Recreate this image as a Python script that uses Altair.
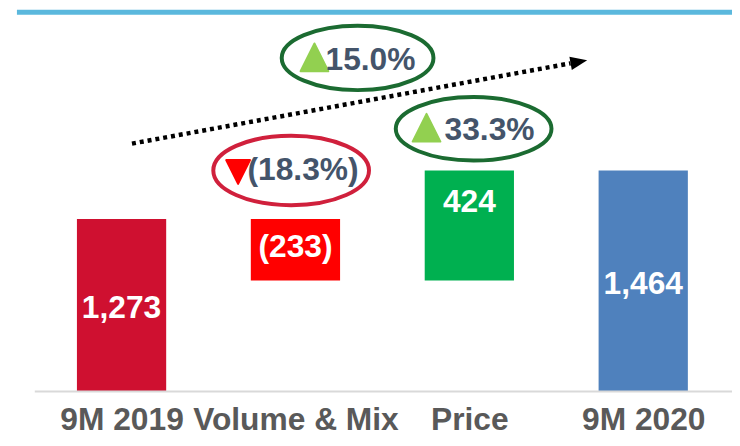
import json
import altair as alt
import pandas as pd

# ---- data ----
categories = ["9M 2019", "Volume & Mix", "Price", "9M 2020"]
bar_labels = ["1,273", "(233)", "424", "1,464"]
bar_base = [0, 820, 820, 0]          # drawn bar extents (chart units, 1st bar = 1,273)
bar_top = [1273, 1273, 1630, 1630]
bar_colors = ["#CF1030", "#FF0000", "#00B050", "#4F81BD"]
bar_label_y = [541, 993, 1328, 717]

pct_text = ["15.0%", "33.3%", "(18.3%)"]
pct_x = [1.4316, 2.116, 1.0437]
pct_y = [2370, 1858, 1562]

ell_x = [1.3574, 2.0247, 0.9753]
ell_y = [2461, 1938, 1631]
ell_w = [153, 157, 157]
ell_h = [65, 64, 70]
ell_colors = ["#1B6B31", "#1B6B31", "#D0203C"]

tri_x = [1.1093, 1.7538, 0.6702]
tri_y = [2465, 1946, 1620]
tri_dir = ["up", "up", "down"]
tri_colors = ["#92D050", "#92D050", "#FF0000"]

arrow_start = (0.0599, 1829)
arrow_end = (2.582, 2421)
arrow_head = (2.630, 2432)

X_DOMAIN = [-0.6017, 3.5105]
Y_DOMAIN = [0, 2816]
FONT = "Liberation Sans"

xs = alt.Scale(domain=X_DOMAIN, nice=False, zero=False, padding=0)
ys = alt.Scale(domain=Y_DOMAIN, nice=False, zero=False, padding=0)

label_expr = json.dumps(categories) + "[datum.value]"
x_axis = alt.Axis(values=[0, 1, 2, 3], labelExpr=label_expr, title=None,
                  domain=False, ticks=False, tickSize=0, grid=False,
                  labelFont=FONT, labelFontSize=32, labelFontWeight="bold",
                  labelColor="#595959", labelPadding=38, labelLimit=0,
                  labelBaseline="alphabetic", labelOverlap=False,
                  labelFlush=False, labelBound=False)


def X(field):
    return alt.X(field, scale=xs, axis=x_axis, title=None)


def Y(field):
    return alt.Y(field, scale=ys, axis=None, title=None)


bars = pd.DataFrame({
    "idx": list(range(len(categories))),
    "cat": categories,
    "base": bar_base,
    "top": bar_top,
    "color": bar_colors,
    "label": bar_labels,
    "ly": bar_label_y,
})

bar_layer = alt.Chart(bars).mark_bar(size=90).encode(
    x=X("idx:Q"),
    y=Y("base:Q"),
    y2="top:Q",
    color=alt.Color("color:N", scale=None),
)

bar_text = alt.Chart(bars).mark_text(
    font=FONT, fontSize=32, fontWeight="bold", color="white",
    baseline="alphabetic", align="center"
).encode(
    x=X("idx:Q"),
    y=Y("ly:Q"),
    text="label:N",
)

# baseline and top band
lines = pd.DataFrame({
    "x1": [-0.499, X_DOMAIN[0]],
    "x2": [X_DOMAIN[1], X_DOMAIN[1]],
    "y": [0, 2797],
    "c": ["#D9D9D9", "#5BB8DD"],
    "w": [2, 5],
})
rule_layer = alt.Chart(lines).mark_rule(strokeCap="butt").encode(
    x=X("x1:Q"),
    x2="x2:Q",
    y=Y("y:Q"),
    color=alt.Color("c:N", scale=None),
    strokeWidth=alt.StrokeWidth("w:Q", scale=None),
)

# ellipses
ell = pd.DataFrame({
    "x": ell_x, "y": ell_y,
    "shape": [f"M -1 0 A 1 {h / w:.4f} 0 1 0 1 0 A 1 {h / w:.4f} 0 1 0 -1 0 Z"
              for w, h in zip(ell_w, ell_h)],
    "size": [w * w for w in ell_w],
    "c": ell_colors,
})
ell_layer = alt.Chart(ell).mark_point(filled=False, strokeWidth=4, opacity=1).encode(
    x=X("x:Q"),
    y=Y("y:Q"),
    shape=alt.Shape("shape:N", scale=None),
    size=alt.Size("size:Q", scale=None),
    stroke=alt.Stroke("c:N", scale=None),
)

# triangles
tri = pd.DataFrame({
    "x": tri_x, "y": tri_y,
    "shape": ["M 0 -1 L 1 1 L -1 1 Z" if d == "up" else "M -1 -1 L 1 -1 L 0 1 Z"
              for d in tri_dir],
    "size": [784 if d == "up" else 576 for d in tri_dir],
    "c": tri_colors,
})
tri_layer = alt.Chart(tri).mark_point(filled=True, strokeWidth=2, strokeJoin="round",
                                      opacity=1).encode(
    x=X("x:Q"),
    y=Y("y:Q"),
    shape=alt.Shape("shape:N", scale=None),
    size=alt.Size("size:Q", scale=None),
    fill=alt.Fill("c:N", scale=None),
    stroke=alt.Stroke("c:N", scale=None),
)

pct = pd.DataFrame({"x": pct_x, "y": pct_y, "t": pct_text})
pct_layer = alt.Chart(pct).mark_text(
    font=FONT, fontSize=32, fontWeight="bold", color="#44546A",
    baseline="alphabetic", align="center"
).encode(
    x=X("x:Q"),
    y=Y("y:Q"),
    text="t:N",
)

# dotted trend arrow
arr = pd.DataFrame({"x": [arrow_start[0]], "y": [arrow_start[1]],
                    "x2": [arrow_end[0]], "y2": [arrow_end[1]]})
arrow_line = alt.Chart(arr).mark_rule(strokeDash=[4, 4], strokeWidth=4.5,
                                      color="black", strokeCap="butt").encode(
    x=X("x:Q"),
    y=Y("y:Q"),
    x2="x2:Q",
    y2="y2:Q",
)
head = pd.DataFrame({"x": [arrow_head[0]], "y": [arrow_head[1]]})
arrow_tip = alt.Chart(head).mark_point(
    shape="M -1 -0.8 L 1 0 L -1 0.8 Z", size=289, angle=349.6,
    filled=True, color="black", opacity=1
).encode(
    x=X("x:Q"),
    y=Y("y:Q"),
)

chart = alt.layer(
    bar_layer, rule_layer, bar_text, arrow_line, arrow_tip,
    ell_layer, tri_layer, pct_layer,
).properties(
    width=721, height=385,
    autosize=alt.AutoSizeParams(type="none"),
    padding={"left": 9, "top": 0, "right": 0, "bottom": 45},
).configure_view(stroke=None)

chart.save("out.html", embed_options={"renderer": "svg", "actions": False})
